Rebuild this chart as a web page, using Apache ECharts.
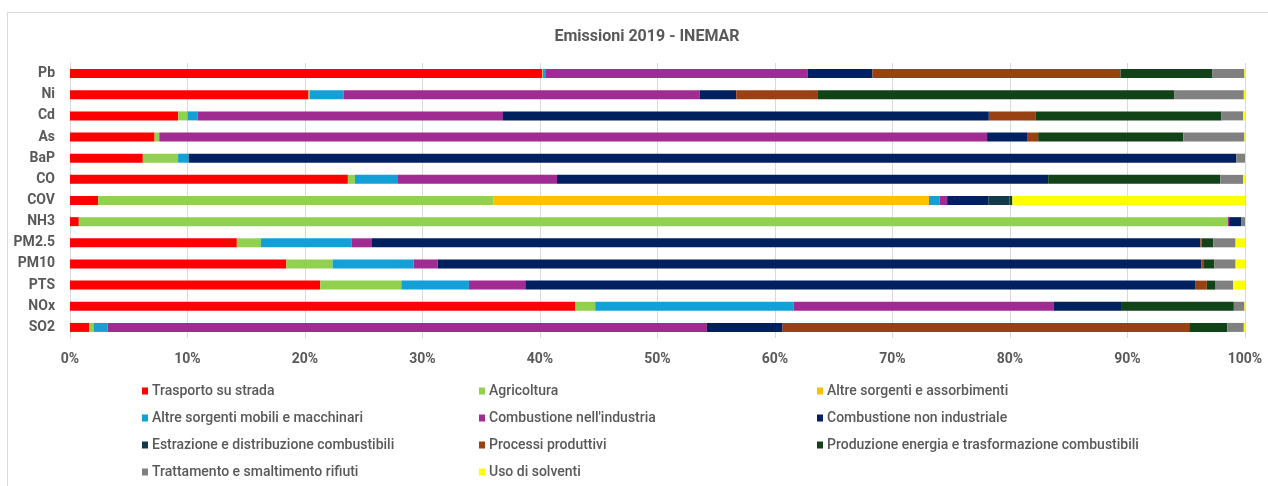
<!DOCTYPE html>
<html>
<head>
<meta charset="utf-8">
<script src="https://cdn.jsdelivr.net/npm/echarts@6/dist/echarts.min.js"></script>
<style>
html,body{margin:0;padding:0;background:#fff;}
#chart{width:1268px;height:486px;}
</style>
</head>
<body>
<div id="chart"></div>
<script>
// Categories (top to bottom)
var categories = ['Pb','Ni','Cd','As','BaP','CO','COV','NH3','PM2.5','PM10','PTS','NOx','SO2'];
var xTicks = [0,10,20,30,40,50,60,70,80,90,100];

// Series values (% share), same order as categories
var trasporto   = [40.2, 20.3, 9.2, 7.2, 6.2, 23.65, 2.4, 0.75, 14.2, 18.4, 21.3, 43.0, 1.65];
var agricoltura = [0.05, 0.1, 0.8, 0.4, 3.0, 0.6, 33.65, 97.8, 2.05, 3.95, 6.9, 1.7, 0.35];
var altreAssorb = [0, 0, 0, 0, 0, 0, 37.05, 0, 0, 0, 0, 0, 0];
var mobili      = [0.2, 2.9, 0.85, 0, 0.9, 3.6, 0.9, 0, 7.7, 6.9, 5.75, 16.9, 1.2];
var industria   = [22.35, 30.3, 26.0, 70.45, 0, 13.6, 0.65, 0.1, 1.7, 2.05, 4.8, 22.1, 51.0];
var nonInd      = [5.5, 3.1, 41.35, 3.4, 89.15, 41.8, 3.5, 1.05, 70.55, 65.0, 57.0, 5.75, 6.45];
var estrazione  = [0, 0, 0, 0, 0, 0, 1.8, 0, 0, 0, 0, 0, 0];
var processi    = [21.1, 6.9, 4.0, 0.95, 0, 0, 0, 0, 0.1, 0.15, 1.0, 0, 34.6];
var produzione  = [7.8, 30.4, 15.8, 12.35, 0, 14.65, 0.25, 0, 1.0, 0.95, 0.75, 9.6, 3.25];
var rifiuti     = [2.75, 5.9, 1.85, 5.2, 0.75, 1.95, 0, 0.3, 1.9, 1.8, 1.5, 0.9, 1.4];
var solventi    = [0.05, 0.1, 0.15, 0.05, 0, 0.15, 19.8, 0, 0.8, 0.8, 1.0, 0.05, 0.1];

var seriesNames = ['Trasporto su strada','Agricoltura','Altre sorgenti e assorbimenti',
  'Altre sorgenti mobili e macchinari',"Combustione nell'industria",'Combustione non industriale',
  'Estrazione e distribuzione combustibili','Processi produttivi',
  'Produzione energia e trasformazione combustibili','Trattamento e smaltimento rifiuti','Uso di solventi'];
var seriesData = [trasporto, agricoltura, altreAssorb, mobili, industria, nonInd, estrazione, processi, produzione, rifiuti, solventi];
var colors = ['#FF0000','#92D050','#FFC000','#12A0D7','#A02B93','#002060','#123A4B','#9A4114','#124218','#808080','#FFFF00'];

var FONT = "Roboto, 'Liberation Sans', sans-serif";
var TXT = '#595959';

var series = seriesNames.map(function(n, i){
  return {
    name: n, type: 'bar', stack: 'total', barWidth: 9,
    itemStyle: {color: colors[i]},
    emphasis: {disabled: true},
    data: seriesData[i]
  };
});

function legendCol(names, left){
  return {
    orient: 'vertical', left: left, top: 384, height: 100, padding: 0,
    data: names,
    icon: 'rect', itemWidth: 6, itemHeight: 7, itemGap: 13,
    selectedMode: false,
    textStyle: {color: TXT, fontFamily: FONT, fontSize: 14, fontWeight: 500, lineHeight: 14, padding: [0,0,0,-1]}
  };
}

var chart = echarts.init(document.getElementById('chart'), null, {renderer: 'canvas'});
chart.setOption({
  animation: false,
  color: colors,
  title: {
    text: 'Emissioni 2019 - INEMAR', left: 642, top: 24, textAlign: 'center',
    textStyle: {color: TXT, fontFamily: FONT, fontSize: 16, fontWeight: 'bold'}
  },
  graphic: [{
    type: 'rect', shape: {x: 7.5, y: 12.5, width: 1300, height: 500},
    style: {fill: 'none', stroke: '#d9d9d9', lineWidth: 1}, silent: true, z: -1
  }],
  legend: [
    legendCol([seriesNames[0], seriesNames[3], seriesNames[6], seriesNames[9]], 142),
    legendCol([seriesNames[1], seriesNames[4], seriesNames[7], seriesNames[10]], 479),
    legendCol([seriesNames[2], seriesNames[5], seriesNames[8]], 817)
  ],
  grid: {left: 70, right: 23, top: 63, bottom: 148, containLabel: false},
  xAxis: {
    type: 'value', min: 0, max: 100, interval: 10,
    axisLine: {show: false}, axisTick: {show: false},
    splitLine: {show: true, lineStyle: {color: '#d9d9d9', width: 1}},
    axisLabel: {color: TXT, fontFamily: FONT, fontSize: 14, fontWeight: 'bold', margin: 14,
      formatter: function(v){ return xTicks.indexOf(v) >= 0 ? v + '%' : ''; }}
  },
  yAxis: {
    type: 'category', data: categories, inverse: true,
    axisLine: {show: true, lineStyle: {color: '#d9d9d9'}},
    axisTick: {show: false},
    axisLabel: {color: TXT, fontFamily: FONT, fontSize: 14, fontWeight: 'bold', margin: 15}
  },
  series: series
});
</script>
</body>
</html>
